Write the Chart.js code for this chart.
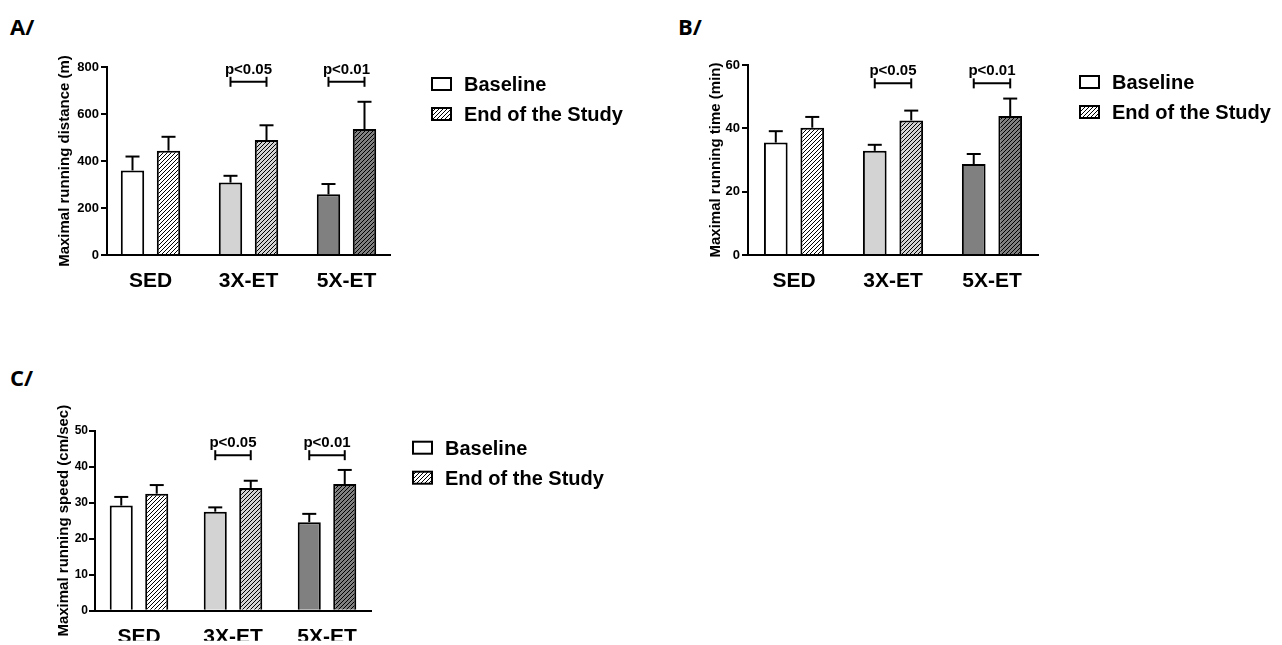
<!DOCTYPE html>
<html>
<head>
<meta charset="utf-8">
<script src="https://cdn.jsdelivr.net/npm/chart.js@4.4.1/dist/chart.umd.min.js"></script>
<style>
    body { margin: 0; background: #fff; }
    #wrap { position: relative; width: 1282px; height: 645px; overflow: hidden; }
    #wrap canvas { position: absolute; }
    .tag { position: absolute; font: bold 22px 'Open Sans', sans-serif; line-height: 22px; color: #000; }
</style>
</head>
<body>
<div id="wrap">
    <div class="tag" style="left:10px;top:15px">A/</div>
    <div class="tag" style="left:678px;top:15px">B/</div>
    <div class="tag" style="left:10px;top:366px">C/</div>
    <canvas id="chartA" width="640" height="320" style="left:0;top:0"></canvas>
    <canvas id="chartB" width="642" height="320" style="left:640px;top:0"></canvas>
    <canvas id="chartC" width="640" height="285" style="left:0;top:360px"></canvas>
</div>
<script>
// categories and series
const categories = ['SED', '3X-ET', '5X-ET'];
const seriesNames = ['Baseline', 'End of the Study'];
const sigLabels = ['', 'p<0.05', 'p<0.01'];

// A - distance (m)
const distBaseline = [360, 308, 258];
const distBaselineErr = [59, 29, 44];
const distEnd = [444, 489, 536];
const distEndErr = [59, 63, 116];
const distTicks = [0, 200, 400, 600, 800];
const distSigLevel = 737;

// B - time (min)
const timeBaseline = [35.5, 32.9, 28.7];
const timeBaselineErr = [3.6, 1.9, 3.2];
const timeEnd = [40.2, 42.5, 43.9];
const timeEndErr = [3.4, 3.1, 5.5];
const timeTicks = [0, 20, 40, 60];
const timeSigLevel = 54.2;

// C - speed (cm/sec)
const speedBaseline = [29.2, 27.5, 24.6];
const speedBaselineErr = [2.4, 1.2, 2.3];
const speedEnd = [32.5, 34.1, 35.2];
const speedEndErr = [2.4, 2.0, 3.9];
const speedTicks = [0, 10, 20, 30, 40, 50];
const speedSigLevel = 43.2;

const FONT = '"Liberation Sans", Arial, sans-serif';
Chart.defaults.font.family = FONT;
Chart.defaults.color = '#000';

const fills = ['#ffffff', '#d3d3d3', '#808080'];

function hatch(bg) {
    const c = document.createElement('canvas');
    c.width = 4; c.height = 4;
    const g = c.getContext('2d');
    g.fillStyle = bg;
    g.fillRect(0, 0, 4, 4);
    g.strokeStyle = '#000';
    g.lineWidth = 1;
    g.beginPath();
    g.moveTo(0, 4); g.lineTo(4, 0);
    g.moveTo(-1, 1); g.lineTo(1, -1);
    g.moveTo(3, 5); g.lineTo(5, 3);
    g.stroke();
    return g.createPattern(c, 'repeat');
}

function drawLine(ctx, x1, y1, x2, y2) {
    ctx.beginPath();
    ctx.moveTo(x1, y1);
    ctx.lineTo(x2, y2);
    ctx.stroke();
}

// error bars, brackets and legend
function extrasPlugin(errs, sigLevel) {
    return {
        id: 'extras',
        afterDatasetsDraw(chart) {
            const ctx = chart.ctx;
            const y = chart.scales.y;
            ctx.save();
            ctx.strokeStyle = '#000';
            ctx.lineWidth = 2;
            chart.data.datasets.forEach((ds, di) => {
                chart.getDatasetMeta(di).data.forEach((bar, i) => {
                    const top = y.getPixelForValue(ds.data[i].y + errs[di][i]);
                    drawLine(ctx, bar.x, bar.y, bar.x, top);
                    drawLine(ctx, bar.x - 7, top, bar.x + 7, top);
                });
            });

            const m0 = chart.getDatasetMeta(0).data;
            const m1 = chart.getDatasetMeta(1).data;
            const yb = y.getPixelForValue(sigLevel);
            ctx.font = 'bold 15px ' + FONT;
            ctx.fillStyle = '#000';
            ctx.textAlign = 'center';
            ctx.textBaseline = 'alphabetic';
            sigLabels.forEach((lab, i) => {
                if (!lab) return;
                const x1 = m0[i].x, x2 = m1[i].x;
                drawLine(ctx, x1, yb, x2, yb);
                drawLine(ctx, x1, yb - 5, x1, yb + 5);
                drawLine(ctx, x2, yb - 5, x2, yb + 5);
                ctx.fillText(lab, (x1 + x2) / 2, yb - 8);
            });
            ctx.restore();
        },
        afterDraw(chart) {
            const ctx = chart.ctx;
            const area = chart.chartArea;
            const lx = area.right + 42;
            const ly = area.top + 11;
            ctx.save();
            ctx.lineWidth = 2;
            ctx.strokeStyle = '#000';
            ctx.font = 'bold 20px ' + FONT;
            ctx.textAlign = 'left';
            ctx.textBaseline = 'alphabetic';
            seriesNames.forEach((name, k) => {
                const yy = ly + k * 30;
                ctx.fillStyle = k ? hatch('#ffffff') : '#ffffff';
                ctx.fillRect(lx, yy, 19, 12);
                ctx.strokeRect(lx, yy, 19, 12);
                ctx.fillStyle = '#000';
                ctx.fillText(name, lx + 32, yy + 13);
            });
            ctx.restore();
        }
    };
}

function makeChart(id, p) {
    const toPoints = arr => arr.map((v, i) => ({ x: i + 1, y: v }));
    return new Chart(document.getElementById(id), {
        type: 'bar',
        data: {
            datasets: [
                {
                    label: seriesNames[0],
                    data: toPoints(p.baseline),
                    backgroundColor: fills,
                    borderColor: '#000',
                    borderWidth: 2,
                    categoryPercentage: p.cp,
                    barPercentage: 0.65
                },
                {
                    label: seriesNames[1],
                    data: toPoints(p.end),
                    backgroundColor: fills.map(c => hatch(c)),
                    borderColor: '#000',
                    borderWidth: 2,
                    categoryPercentage: p.cp,
                    barPercentage: 0.65
                }
            ]
        },
        options: {
            responsive: false,
            animation: false,
            events: [],
            devicePixelRatio: 1,
            layout: {
                padding: { left: 0, top: p.top, right: p.right, bottom: p.bottom }
            },
            plugins: {
                legend: { display: false },
                tooltip: { enabled: false }
            },
            scales: {
                x: {
                    type: 'linear',
                    min: 1 - p.pad,
                    max: categories.length + p.pad,
                    offset: false,
                    grid: { display: false, drawTicks: false },
                    border: { display: true, color: '#000', width: 2 },
                    afterBuildTicks: axis => { axis.ticks = categories.map((c, i) => ({ value: i + 1 })); },
                    afterFit: axis => { axis.height = p.xH; },
                    ticks: {
                        autoSkip: false,
                        maxRotation: 0,
                        padding: 14,
                        font: { size: 21, weight: 'bold' },
                        callback: v => categories[v - 1]
                    }
                },
                y: {
                    min: 0,
                    max: p.ticks[p.ticks.length - 1],
                    afterBuildTicks: axis => { axis.ticks = p.ticks.map(v => ({ value: v })); },
                    afterFit: axis => { axis.width = p.left; },
                    grid: { display: true, drawOnChartArea: false, drawTicks: true, tickLength: 6, color: '#000', lineWidth: 2 },
                    border: { display: true, color: '#000', width: 2 },
                    ticks: {
                        padding: p.tickPad,
                        font: { size: p.tickSize, weight: 'bold' },
                        callback: v => String(v)
                    },
                    title: {
                        display: true,
                        text: p.title,
                        font: { size: 15, weight: 'bold' },
                        padding: { top: p.titlePad, bottom: 0 }
                    }
                }
            }
        },
        plugins: [extrasPlugin([p.baseErr, p.endErr], p.sig)]
    });
}

makeChart('chartA', {
    baseline: distBaseline, baseErr: distBaselineErr, end: distEnd, endErr: distEndErr,
    ticks: distTicks, sig: distSigLevel, title: 'Maximal running distance (m)',
    left: 107, top: 67, right: 250, bottom: 25, xH: 40, pad: 0.444, cp: 0.735,
    titlePad: 56, tickSize: 13, tickPad: 2
});
makeChart('chartB', {
    baseline: timeBaseline, baseErr: timeBaselineErr, end: timeEnd, endErr: timeEndErr,
    ticks: timeTicks, sig: timeSigLevel, title: 'Maximal running time (min)',
    left: 108, top: 65, right: 244, bottom: 25, xH: 40, pad: 0.465, cp: 0.737,
    titlePad: 67, tickSize: 13, tickPad: 2
});
makeChart('chartC', {
    baseline: speedBaseline, baseErr: speedBaselineErr, end: speedEnd, endErr: speedEndErr,
    ticks: speedTicks, sig: speedSigLevel, title: 'Maximal running speed (cm/sec)',
    left: 95, top: 70.7, right: 269, bottom: 4.3, xH: 30, pad: 0.468, cp: 0.755,
    titlePad: 55, tickSize: 12, tickPad: 1
});
</script>
</body>
</html>
